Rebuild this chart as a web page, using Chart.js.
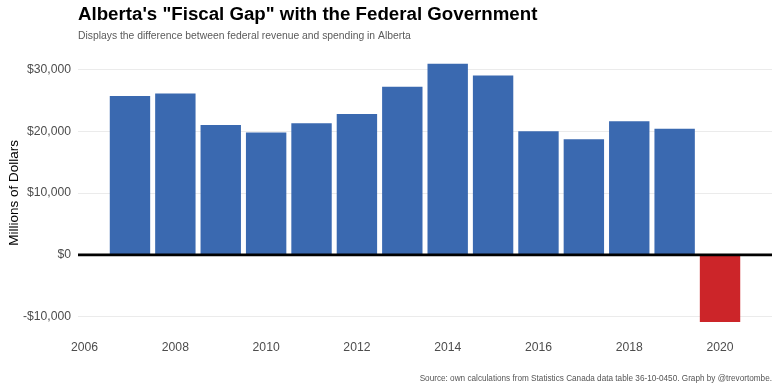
<!DOCTYPE html>
<html>
<head>
<meta charset="utf-8">
<script src="https://cdn.jsdelivr.net/npm/chart.js@4/dist/chart.umd.min.js"></script>
<style>
html, body { margin: 0; padding: 0; background: #ffffff; }
#wrap { width: 780px; height: 390px; }
</style>
</head>
<body>
<div id="wrap"><canvas id="c" width="780" height="390"></canvas></div>
<script>
// ---- Data ----
const years = [2007, 2008, 2009, 2010, 2011, 2012, 2013, 2014, 2015, 2016, 2017, 2018, 2019, 2020];
const fiscalGap = [25700, 26100, 21000, 19800, 21300, 22800, 27200, 30900, 29000, 20000, 18700, 21600, 20400, -10850];
const xTickValues = [2006, 2008, 2010, 2012, 2014, 2016, 2018, 2020];
const yTickValues = [-10000, 0, 10000, 20000, 30000];

const titleText = 'Alberta\'s "Fiscal Gap" with the Federal Government';
const subtitleText = 'Displays the difference between federal revenue and spending in Alberta';
const captionText = 'Source: own calculations from Statistics Canada data table 36-10-0450. Graph by @trevortombe.';
const yTitleText = 'Millions of Dollars';

const FONT = '"Liberation Sans", Arial, Helvetica, sans-serif';
const BLUE = '#3A69B0';
const RED = '#CC2529';

const points = years.map((y, i) => ({ x: y, y: fiscalGap[i] }));

const zeroLine = {
  id: 'zeroLine',
  afterDatasetsDraw(chart) {
    const { ctx, chartArea, scales } = chart;
    const y = scales.y.getPixelForValue(0);
    ctx.save();
    ctx.strokeStyle = '#000000';
    ctx.lineWidth = 2.8;
    ctx.beginPath();
    ctx.moveTo(chartArea.left, y);
    ctx.lineTo(chartArea.right, y);
    ctx.stroke();
    ctx.restore();
  }
};

new Chart(document.getElementById('c'), {
  type: 'bar',
  data: {
    datasets: [{
      data: points,
      backgroundColor: fiscalGap.map(v => v < 0 ? RED : BLUE),
      borderWidth: 0,
      barPercentage: 0.89,
      categoryPercentage: 1.0
    }]
  },
  options: {
    responsive: false,
    animation: false,
    devicePixelRatio: 1,
    layout: { padding: { left: 0, right: 8, top: 0, bottom: 0 } },
    plugins: {
      legend: { display: false },
      tooltip: { enabled: false },
      title: {
        display: true,
        text: titleText,
        align: 'start',
        fullSize: false,
        color: '#000000',
        font: { family: FONT, size: 18.7, weight: 'bold', lineHeight: 1.2 },
        padding: { top: 3.3, bottom: 0 }
      },
      subtitle: {
        display: true,
        text: subtitleText,
        align: 'start',
        fullSize: false,
        color: '#5A5A5A',
        font: { family: FONT, size: 10.35, lineHeight: 1.2 },
        padding: { top: 4.3, bottom: 8.4 }
      }
    },
    scales: {
      x: {
        type: 'linear',
        offset: false,
        min: 2005.855,
        max: 2021.145,
        grid: { display: false, drawTicks: false, offset: false },
        border: { display: false },
        afterBuildTicks: axis => { axis.ticks = xTickValues.map(v => ({ value: v })); },
        ticks: {
          color: '#4D4D4D',
          font: { family: FONT, size: 12.2, lineHeight: 1.2 },
          padding: 5,
          maxRotation: 0,
          autoSkip: false,
          callback: v => String(v)
        },
        title: {
          display: true,
          text: captionText,
          align: 'end',
          color: '#555555',
          font: { family: FONT, size: 8.2, lineHeight: 1.2 },
          padding: { top: 14.2, bottom: 6.3 }
        }
      },
      y: {
        type: 'linear',
        min: -12940,
        max: 32990,
        grid: { color: '#EBEBEB', lineWidth: 1, drawTicks: false },
        border: { display: false },
        afterBuildTicks: axis => { axis.ticks = yTickValues.map(v => ({ value: v })); },
        afterFit: axis => { axis.width = 78; },
        ticks: {
          color: '#4D4D4D',
          font: { family: FONT, size: 12.2, lineHeight: 1.2 },
          padding: 7,
          callback: v => (v < 0 ? '-' : '') + '$' + Math.abs(v).toLocaleString('en-US')
        },
        title: {
          display: true,
          text: yTitleText,
          color: '#000000',
          font: { family: FONT, size: 13.5, lineHeight: 1.2 },
          padding: { top: 6, bottom: 0 }
        }
      }
    }
  },
  plugins: [zeroLine]
});
</script>
</body>
</html>
